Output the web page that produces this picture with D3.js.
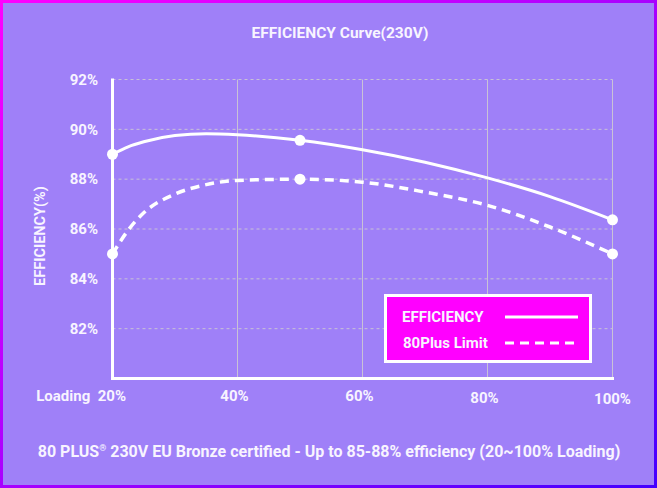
<!DOCTYPE html>
<html>
<head>
<meta charset="utf-8">
<script src="https://cdn.jsdelivr.net/npm/d3@7/dist/d3.min.js"></script>
<style>
html,body{margin:0;padding:0;background:#9f80f8;}
svg{display:block;}
text{font-family:Roboto,"Noto Sans",sans-serif;font-weight:bold;fill:#f8f4ff;}
</style>
</head>
<body>
<svg id="chart" width="657" height="488"></svg>
<script>
// Data
const loading = [20, 22.5, 25, 30, 35, 40, 50, 60, 70, 80, 90, 100];
const efficiency = [89.0, 89.3, 89.5, 89.75, 89.82, 89.78, 89.56, 89.18, 88.68, 88.05, 87.3, 86.37];
const plusLimit = [85.0, 85.95, 86.65, 87.4, 87.78, 87.95, 88.0, 87.88, 87.48, 86.95, 86.08, 85.0];
const markerLoads = [20, 50, 100];
const xTicks = [20, 40, 60, 80, 100];
const xTickLabels = ["Loading  20%", "40%", "60%", "80%", "100%"];
const yTicks = [82, 84, 86, 88, 90, 92];
const seriesNames = ["EFFICIENCY", "80Plus Limit"];
const titleText = "EFFICIENCY Curve(230V)";
const yTitle = "EFFICIENCY(%)";
const footA = "80 PLUS";
const footReg = "\u00AE";
const footB = " 230V EU Bronze certified - Up to 85-88% efficiency (20~100% Loading)";

const W = 657, H = 488;
const svg = d3.select("#chart");
const defs = svg.append("defs");
const grad = defs.append("linearGradient").attr("id","bord")
  .attr("x1","0").attr("y1","0").attr("x2","1").attr("y2","1");
grad.append("stop").attr("offset","0%").attr("stop-color","#ff00ff");
grad.append("stop").attr("offset","55%").attr("stop-color","#a000ff");
grad.append("stop").attr("offset","100%").attr("stop-color","#4400ff");

svg.append("rect").attr("x",0).attr("y",0).attr("width",W).attr("height",H).attr("fill","url(#bord)");
svg.append("rect").attr("x",3).attr("y",3).attr("width",W-6).attr("height",H-6).attr("fill","#9f80f8");

const x = d3.scaleLinear().domain([20,100]).range([112.5,612.5]);
const y = d3.scaleLinear().domain([80,92]).range([378.5,79.5]);

// grid
svg.append("g").selectAll("line").data(yTicks).join("line")
  .attr("x1", x(20)).attr("x2", x(100))
  .attr("y1", d=>y(d)).attr("y2", d=>y(d))
  .attr("stroke","#c9c2d6").attr("stroke-width",1).attr("stroke-dasharray","3,3");
svg.append("g").selectAll("line").data(xTicks.slice(1)).join("line")
  .attr("x1", d=>x(d)).attr("x2", d=>x(d))
  .attr("y1", y(92)).attr("y2", y(80))
  .attr("stroke","#c9c2d6").attr("stroke-width",1);

// axes lines
svg.append("line").attr("x1",x(20)).attr("x2",x(20)).attr("y1",y(92)-1).attr("y2",y(80)+1.5)
  .attr("stroke","#ffffff").attr("stroke-width",3);
svg.append("line").attr("x1",x(20)-1.5).attr("x2",x(100)+1.5).attr("y1",y(80)).attr("y2",y(80))
  .attr("stroke","#ffffff").attr("stroke-width",3);

// y tick labels
svg.append("g").selectAll("text").data(yTicks).join("text")
  .attr("x", 98).attr("y", d=>y(d)).attr("dy","0.35em")
  .attr("text-anchor","end").attr("font-size",15).text(d=>d+"%");

// x tick labels
const xLabelDy = [0, 0, 0, 2, 3];
svg.append("g").selectAll("text").data(xTicks).join("text")
  .attr("x", (d,i)=> i===0 ? 126 : x(d) - (i<4 ? 3 : 0))
  .attr("y", (d,i)=> 396 + xLabelDy[i])
  .attr("dy","0.35em")
  .attr("text-anchor",(d,i)=> i===0 ? "end" : "middle")
  .attr("font-size",15).attr("xml:space","preserve")
  .text((d,i)=>xTickLabels[i]);

// lines
const line = d3.line().x((d,i)=>x(loading[i])).y(d=>y(d)).curve(d3.curveMonotoneX);
svg.append("path").attr("d", line(efficiency)).attr("fill","none")
  .attr("stroke","#ffffff").attr("stroke-width",3);
svg.append("path").attr("d", line(plusLimit)).attr("fill","none")
  .attr("stroke","#ffffff").attr("stroke-width",3.5).attr("stroke-dasharray","9,6");

// markers
const markerIdx = markerLoads.map(m=>loading.indexOf(m));
[efficiency, plusLimit].forEach(series=>{
  svg.append("g").selectAll("circle").data(markerIdx).join("circle")
    .attr("cx", i=>x(loading[i])).attr("cy", i=>y(series[i])).attr("r",5.5)
    .attr("fill","#ffffff");
});

// legend
const lg = svg.append("g");
lg.append("rect").attr("x",385.5).attr("y",295.5).attr("width",205).attr("height",66)
  .attr("fill","#ff00ff").attr("stroke","#ffffff").attr("stroke-width",3);
seriesNames.forEach((n,i)=>{
  const yy = 317 + i*26;
  lg.append("text").attr("x", i===0 ? 402 : 403).attr("y", yy).attr("dy","0.35em")
    .attr("font-size",15).text(n);
  lg.append("line").attr("x1",505).attr("x2",578).attr("y1",yy).attr("y2",yy)
    .attr("stroke","#ffffff").attr("stroke-width",3)
    .attr("stroke-dasharray", i===0 ? null : "9,6");
});

// titles
svg.append("text").attr("x",340).attr("y",33).attr("dy","0.35em").attr("text-anchor","middle")
  .attr("font-size",15.5).text(titleText);
svg.append("text").attr("transform","translate(40,236) rotate(-90)").attr("dy","0.35em")
  .attr("text-anchor","middle").attr("font-size",14.5).text(yTitle);
const ft = svg.append("text").attr("x",329).attr("y",456.5)
  .attr("text-anchor","middle").attr("font-size",16);
ft.append("tspan").text(footA);
ft.append("tspan").attr("font-size",9).attr("dy",-6).text(footReg);
ft.append("tspan").attr("dy",6).text(footB);
</script>
</body>
</html>
